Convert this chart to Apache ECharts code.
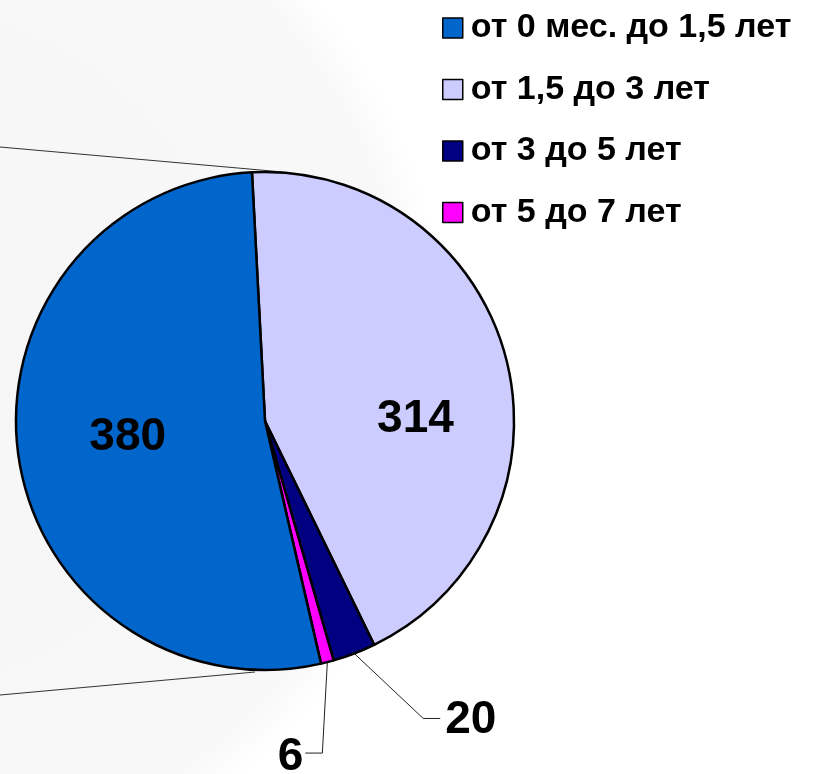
<!DOCTYPE html>
<html>
<head>
<meta charset="utf-8">
<script src="https://cdn.jsdelivr.net/npm/echarts@6/dist/echarts.min.js"></script>
<style>
html,body{margin:0;padding:0;background:#fff;}
#chart{width:813px;height:774px;}
</style>
</head>
<body>
<div id="chart"></div>
<script>
// Data
const categories = ['от 0 мес. до 1,5 лет', 'от 1,5 до 3 лет', 'от 3 до 5 лет', 'от 5 до 7 лет'];
const values = [380, 314, 20, 6];
const colors = ['#0066cc', '#ccccff', '#000080', '#ff00ff'];
// drawing order (clockwise from top): 1,5-3, 3-5, 5-7, 0-1,5
const order = [1, 2, 3, 0];

const chart = echarts.init(document.getElementById('chart'), null, {renderer: 'canvas'});

const pieData = order.map(i => ({
  name: categories[i],
  value: values[i],
  itemStyle: {color: colors[i]},
  label: (values[i] < 50) ? {position: 'outside'} : {position: 'inside'},
  labelLine: {show: values[i] < 50}
}));

const labelFont = {fontFamily: '"Liberation Sans", Arial, sans-serif', fontWeight: 'bold', fontSize: 46, color: '#000'};

chart.setOption({
  backgroundColor: '#ffffff',
  animation: false,
  graphic: [
    {
      type: 'circle', z: -10, silent: true,
      shape: {cx: -100, cy: 350, r: 545},
      style: {
        fill: new echarts.graphic.RadialGradient(0.5, 0.5, 0.5, [
          {offset: 0, color: '#f6f6f6'},
          {offset: 0.92, color: '#f8f8f8'},
          {offset: 1, color: '#ffffff'}
        ])
      }
    },
    {type: 'line', z: -5, silent: true, shape: {x1: 0, y1: 147, x2: 283, y2: 172}, style: {stroke: '#333', lineWidth: 1}},
    {type: 'line', z: -5, silent: true, shape: {x1: 0, y1: 695, x2: 255, y2: 672}, style: {stroke: '#333', lineWidth: 1}}
  ],
  legend: {
    orient: 'vertical',
    left: 437,
    top: 6,
    icon: 'rect',
    itemWidth: 20,
    itemHeight: 20,
    itemGap: 27.5,
    data: categories,
    itemStyle: {borderColor: '#000', borderWidth: 1.5},
    textStyle: {
      fontFamily: '"Liberation Sans", Arial, sans-serif',
      fontWeight: 'bold',
      fontSize: 34,
      color: '#000',
      padding: [0, 0, 0, 3]
    },
    selectedMode: false
  },
  series: [{
    type: 'pie',
    center: [265, 421],
    radius: 249,
    startAngle: 93,
    clockwise: true,
    avoidLabelOverlap: false,
    minAngle: 0,
    itemStyle: {borderColor: '#000', borderWidth: 2.5},
    label: Object.assign({show: true, formatter: '{c}'}, labelFont),
    labelLine: {show: true, length: 40, length2: 20, smooth: false, lineStyle: {color: '#222', width: 1}},
    emphasis: {disabled: true},
    data: pieData,
    labelLayout: function (p) {
      const v = values[order[p.dataIndex]];
      if (v === 380) return {dx: -11, dy: -1};
      if (v === 314) return {dx: 27, dy: 30};
      const pts = p.labelLinePoints;
      if (!pts) return {};
      const a = [pts[0][0], pts[0][1]];
      if (v === 20) {
        return {
          x: a[0] + 91, y: a[1] + 67, align: 'left', verticalAlign: 'middle',
          labelLinePoints: [a, [a[0] + 69, a[1] + 65], [a[0] + 86, a[1] + 65]]
        };
      }
      return {
        x: a[0] - 24, y: a[1] + 95, align: 'right', verticalAlign: 'middle',
        labelLinePoints: [a, [a[0] - 5, a[1] + 91], [a[0] - 22, a[1] + 91]]
      };
    }
  }]
});
</script>
</body>
</html>
